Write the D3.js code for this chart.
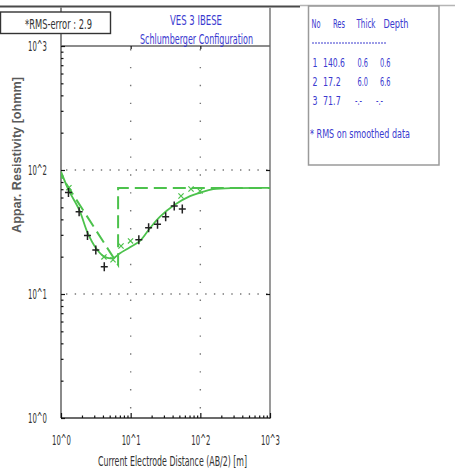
<!DOCTYPE html>
<html>
<head>
<meta charset="utf-8">
<script src="https://cdn.jsdelivr.net/npm/d3@7"></script>
<style>
  html, body { margin: 0; padding: 0; background: #ffffff; }
  svg { display: block; }
  .narrow { font-family: "Liberation Sans Narrow", "Arial Narrow", "DejaVu Sans Condensed", "Liberation Sans", sans-serif; font-stretch: condensed; }
</style>
</head>
<body>
<svg id="chart" width="455" height="471"></svg>
<script>
// ---- Sounding data -------------------------------------------------------
// Field measurements: half electrode spacing AB/2 [m] and apparent resistivity [ohm m]
const abHalf      = [1.28, 1.82, 2.40, 3.16, 4.18, 13.1, 18.1, 24.3, 31.8, 42.2, 55.1];
const rhoApparent = [65.9, 46.1, 29.6, 22.6, 16.6, 27.4, 34.2, 36.6, 42.0, 51.2, 48.5];

// Smoothed data points
const smoothAbHalf = [1.30, 4.14, 5.58, 7.27, 9.95, 52.8, 73.5, 98.9];
const smoothRho    = [72.0, 19.9, 18.9, 24.4, 26.8, 61.7, 70.3, 67.7];

// Computed response of the fitted model
const curveAbHalf = [1, 1.30, 1.83, 2.42, 3.18, 4.18, 5.58, 7.03, 9.78, 13.6, 18.9, 26.4, 42.3, 71.1, 98.9, 153, 333, 1000];
const curveRho    = [96.9, 68.1, 47.6, 30.9, 23.4, 20.0, 19.5, 21.3, 23.8, 26.8, 33.9, 42.0, 52.2, 61.5, 65.5, 70.0, 71.5, 71.7];

// Layered model
const layerNo    = [1, 2, 3];
const layerRes   = [140.6, 17.2, 71.7];
const layerThick = [0.6, 6.0, null];
const layerDepth = [0.6, 6.6, null];
const tableHeader = ["No", "Res", "Thick", "Depth"];

// Axis decades
const decadeExponents = [0, 1, 2, 3];
const rmsError = 2.9;

// ---- Layout ---------------------------------------------------------------
const svg = d3.select("#chart");
const plot = { left: 61, right: 270, top: 46, bottom: 418 };
const GREEN = "#4cc24c";
const BLUE = "#3a3acf";

const x = d3.scaleLog().domain([1, 1000]).range([plot.left, plot.right]);
const y = d3.scaleLog().domain([1, 1000]).range([plot.bottom, plot.top]);

const decades = decadeExponents.map(e => Math.pow(10, e));
const fmt = d => "10^" + Math.round(Math.log10(d));
const minors = [];
decades.slice(0, -1).forEach(d => { for (let k = 2; k <= 9; k++) minors.push(d * k); });

// Text helper: fixed rendered width so the condensed look holds with any fallback font
function fit(sel, w) {
  return sel.attr("textLength", w).attr("lengthAdjust", "spacingAndGlyphs");
}

svg.append("rect").attr("width", 455).attr("height", 471).attr("fill", "#ffffff");

// ---- Grid (dotted) --------------------------------------------------------
const inner = decades.slice(1, -1);
svg.append("g").selectAll("line").data(inner).join("line")
  .attr("x1", d => x(d)).attr("x2", d => x(d))
  .attr("y1", plot.top + 3).attr("y2", plot.bottom)
  .attr("stroke", "#777").attr("stroke-width", 1.4)
  .attr("stroke-dasharray", "1.4,16.5");
svg.append("g").selectAll("line").data(inner).join("line")
  .attr("x1", plot.left + 5).attr("x2", plot.right)
  .attr("y1", d => y(d)).attr("y2", d => y(d))
  .attr("stroke", "#777").attr("stroke-width", 1.4)
  .attr("stroke-dasharray", "1.4,7.3");

// ---- Frames ---------------------------------------------------------------
// Page header rule
svg.append("line").attr("x1", 0).attr("x2", 300).attr("y1", 6.5).attr("y2", 6.5)
  .attr("stroke", "#4a4a4a").attr("stroke-width", 2);
svg.append("line").attr("x1", 300).attr("x2", 455).attr("y1", 5.5).attr("y2", 5.5)
  .attr("stroke", "#b5b5b5").attr("stroke-width", 1.5);

// Title box + plot frame
svg.append("line").attr("x1", plot.left).attr("x2", plot.left).attr("y1", 7).attr("y2", plot.bottom)
  .attr("stroke", "#8a8a8a").attr("stroke-width", 2);
svg.append("line").attr("x1", plot.right).attr("x2", plot.right).attr("y1", 7).attr("y2", plot.bottom + 1)
  .attr("stroke", "#9a9a9a").attr("stroke-width", 2);
svg.append("line").attr("x1", plot.left).attr("x2", plot.right).attr("y1", plot.top).attr("y2", plot.top)
  .attr("stroke", "#666").attr("stroke-width", 1.6);
svg.append("line").attr("x1", plot.left).attr("x2", plot.right).attr("y1", plot.bottom).attr("y2", plot.bottom)
  .attr("stroke", "#3a3a3a").attr("stroke-width", 1.6);

// ---- Axes -----------------------------------------------------------------
function styleAxis(g) {
  g.select(".domain").remove();
  g.selectAll(".tick line").attr("stroke", "#111").attr("stroke-width", 1.2);
  g.selectAll("text").attr("class", "narrow").attr("font-size", 13.5).attr("fill", "#333")
    .filter(function () { return this.textContent.length > 0; })
    .call(s => fit(s, 19));
}

svg.append("g").attr("transform", `translate(${plot.left},0)`)
  .call(d3.axisLeft(y).tickValues(decades).tickFormat(fmt).tickSizeInner(-4).tickSizeOuter(0).tickPadding(14))
  .call(styleAxis);
svg.append("g").attr("transform", `translate(${plot.left},0)`)
  .call(d3.axisLeft(y).tickValues(minors).tickFormat("").tickSizeInner(-2.5).tickSizeOuter(0))
  .call(styleAxis);
svg.append("g").attr("transform", `translate(${plot.right},0)`)
  .call(d3.axisRight(y).tickValues(inner).tickFormat("").tickSizeInner(-4).tickSizeOuter(0))
  .call(styleAxis);

svg.append("g").attr("transform", `translate(0,${plot.bottom})`)
  .call(d3.axisBottom(x).tickValues(decades).tickFormat(fmt).tickSizeInner(-5).tickSizeOuter(0).tickPadding(17))
  .call(styleAxis);
svg.append("g").attr("transform", `translate(0,${plot.bottom})`)
  .call(d3.axisBottom(x).tickValues(minors).tickFormat("").tickSizeInner(-2.5).tickSizeOuter(0))
  .call(styleAxis);
svg.append("g").attr("transform", `translate(0,${plot.top})`)
  .call(d3.axisTop(x).tickValues(inner).tickFormat("").tickSizeInner(-3).tickSizeOuter(0))
  .call(styleAxis);

// ---- Data layer (clipped to plot) ----------------------------------------
svg.append("clipPath").attr("id", "plotClip").append("rect")
  .attr("x", plot.left).attr("y", plot.top)
  .attr("width", plot.right - plot.left).attr("height", plot.bottom - plot.top);
const layer = svg.append("g").attr("clip-path", "url(#plotClip)");

// Model outline: (depth1, rho1) -> (depth2, rho2) -> (depth2, rho3) -> right edge
const modelPts = [
  [layerDepth[0], layerRes[0]],
  [layerDepth[1], layerRes[1]],
  [layerDepth[1], layerRes[2]],
  [x.domain()[1], layerRes[2]]
];
layer.append("path")
  .attr("d", d3.line().x(d => x(d[0])).y(d => y(d[1]))(modelPts))
  .attr("fill", "none").attr("stroke", GREEN).attr("stroke-width", 2)
  .attr("stroke-dasharray", "13,6");

// Fitted response curve
const curvePts = curveAbHalf.map((a, i) => [a, curveRho[i]]);
layer.append("path")
  .attr("d", d3.line().x(d => x(d[0])).y(d => y(d[1])).curve(d3.curveCatmullRom.alpha(0.5))(curvePts))
  .attr("fill", "none").attr("stroke", GREEN).attr("stroke-width", 1.8);

// Smoothed data marks (small x)
const sm = layer.append("g").attr("stroke", GREEN).attr("stroke-width", 1.2);
smoothAbHalf.forEach((a, i) => {
  const cx = x(a), cy = y(smoothRho[i]), r = 2.6;
  sm.append("path").attr("d", `M${cx - r},${cy - r}L${cx + r},${cy + r}M${cx + r},${cy - r}L${cx - r},${cy + r}`);
});

// Field measurements (+)
const obs = layer.append("g").attr("stroke", "#222").attr("stroke-width", 1.5);
abHalf.forEach((a, i) => {
  const cx = x(a), cy = y(rhoApparent[i]);
  obs.append("path").attr("d", `M${cx - 3.5},${cy}L${cx + 3.5},${cy}M${cx},${cy - 4.5}L${cx},${cy + 4.5}`);
});

// ---- Titles and labels ----------------------------------------------------
fit(svg.append("text").attr("class", "narrow")
  .attr("x", 196).attr("y", 24.5).attr("text-anchor", "middle")
  .attr("font-size", 14).attr("fill", BLUE), 52)
  .text("VES 3 IBESE");
fit(svg.append("text").attr("class", "narrow")
  .attr("x", 196.5).attr("y", 43.5).attr("text-anchor", "middle")
  .attr("font-size", 14).attr("fill", BLUE), 113)
  .text("Schlumberger Configuration");

// RMS error box
svg.append("rect").attr("x", 0.5).attr("y", 12).attr("width", 110).attr("height", 21.5)
  .attr("fill", "#ffffff").attr("stroke", "#333").attr("stroke-width", 1.4);
fit(svg.append("text").attr("class", "narrow")
  .attr("x", 25).attr("y", 28.5).attr("font-size", 13.5).attr("fill", "#333"), 67)
  .text("*RMS-error :  " + rmsError.toFixed(1));

// Axis titles
svg.append("text")
  .attr("transform", "translate(21,155) rotate(-90)")
  .attr("text-anchor", "middle")
  .attr("font-family", "'Liberation Sans', Arial, sans-serif")
  .attr("font-size", 12).attr("font-weight", "bold").attr("fill", "#5a5a5a")
  .attr("textLength", 156).attr("lengthAdjust", "spacingAndGlyphs")
  .text("Appar. Resistivity [ohmm]");
fit(svg.append("text").attr("class", "narrow")
  .attr("x", 172.5).attr("y", 466).attr("text-anchor", "middle")
  .attr("font-size", 13.5).attr("fill", "#333"), 149)
  .text("Current Electrode Distance (AB/2) [m]");

// ---- Layer table ----------------------------------------------------------
const tbl = svg.append("g").attr("class", "narrow").attr("font-size", 12).attr("fill", BLUE);
svg.append("rect").attr("x", 308.5).attr("y", 6).attr("width", 130.5).attr("height", 159)
  .attr("fill", "none").attr("stroke", "#9a9a9a").attr("stroke-width", 1.5);

// Header row as one text line with positioned spans
const headerX = [311.5, 333, 356.5, 383.5];
const headerW = [9, 12, 19, 25];
const headerText = tbl.append("text").attr("y", 28).attr("font-size", 12.5);
tableHeader.forEach((t, i) => {
  fit(headerText.append("tspan").attr("x", headerX[i]), headerW[i]).text(t);
});
tbl.append("line").attr("x1", 312).attr("x2", 387).attr("y1", 43).attr("y2", 43)
  .attr("stroke", BLUE).attr("stroke-width", 1).attr("stroke-dasharray", "2,1");

// Width of a rendered value in the condensed face
const cellWidth = s => s === "-.-" ? 7 : (s.length <= 3 ? 10.5 : s.length * 4.3 + 0.5);
const rowY = [66.5, 85.5, 104.5];
const fmtNum = v => (v === null ? "-.-" : v.toFixed(1));
layerNo.forEach((n, i) => {
  const yy = rowY[i];
  const res = layerRes[i].toFixed(1);
  const th = fmtNum(layerThick[i]);
  const dp = fmtNum(layerDepth[i]);
  fit(tbl.append("text").attr("x", 312.5).attr("y", yy).attr("font-size", 13), 5).text(n);
  fit(tbl.append("text").attr("x", 323).attr("y", yy).attr("font-size", 13), cellWidth(res)).text(res);
  fit(tbl.append("text").attr("x", layerThick[i] === null ? 355 : 357.5).attr("y", yy).attr("font-size", 13), cellWidth(th)).text(th);
  fit(tbl.append("text").attr("x", layerDepth[i] === null ? 376 : 380).attr("y", yy).attr("font-size", 13), cellWidth(dp)).text(dp);
});
fit(tbl.append("text").attr("x", 310).attr("y", 138).attr("font-size", 12), 100)
  .text("* RMS on smoothed data");
</script>
</body>
</html>
